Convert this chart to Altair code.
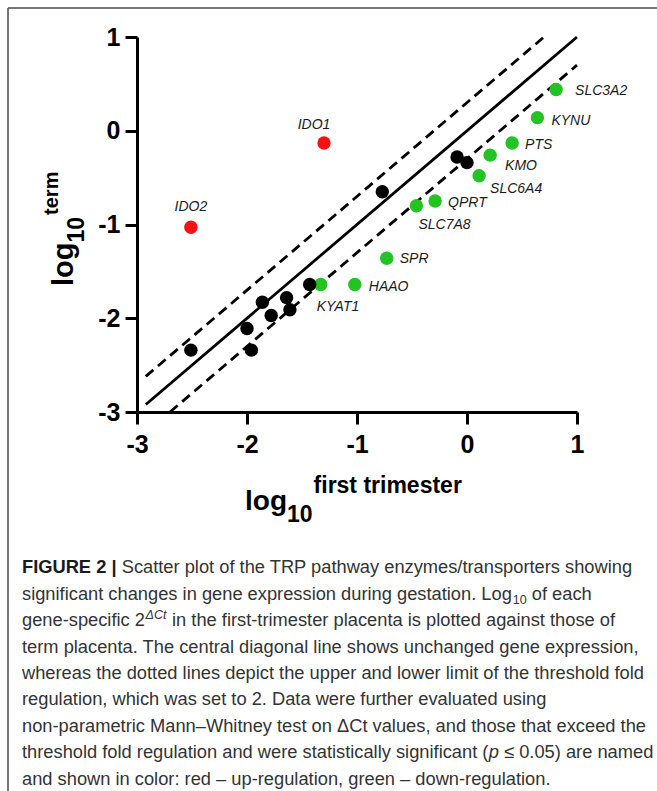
import altair as alt
import pandas as pd

# ---------------- data ----------------
up_genes = ["IDO2", "IDO1"]
up_first = [-2.51, -1.30]
up_term = [-1.03, -0.13]

down_genes = ["SLC3A2", "KYNU", "PTS", "KMO", "SLC6A4", "QPRT", "SLC7A8", "SPR", "HAAO", "KYAT1"]
down_first = [0.81, 0.64, 0.41, 0.21, 0.11, -0.29, -0.46, -0.73, -1.02, -1.33]
down_term = [0.44, 0.14, -0.13, -0.26, -0.48, -0.75, -0.80, -1.36, -1.64, -1.64]

ns_first = [-0.09, 0.00, -0.77, -1.43, -1.86, -1.64, -1.61, -1.78, -2.00, -1.96, -2.51]
ns_term = [-0.28, -0.34, -0.65, -1.64, -1.83, -1.78, -1.91, -1.97, -2.11, -2.34, -2.34]

unchanged_first = [-2.92, 1.00]
unchanged_term = [-2.92, 1.00]
upper_first = [-2.92, 0.70]
upper_term = [-2.62, 1.00]
lower_first = [-2.70, 1.00]
lower_term = [-3.00, 0.70]

tick_values = [-3, -2, -1, 0, 1]

caption_lines = [
    [("b", "FIGURE 2 |"), ("r", " Scatter plot of the TRP pathway enzymes/transporters showing")],
    [("r", "significant changes in gene expression during gestation. Log"), ("sub", "10"), ("r", " of each")],
    [("r", "gene-specific 2"), ("sup", "\u0394Ct"), ("r", " in the first-trimester placenta is plotted against those of")],
    [("r", "term placenta. The central diagonal line shows unchanged gene expression,")],
    [("r", "whereas the dotted lines depict the upper and lower limit of the threshold fold")],
    [("r", "regulation, which was set to 2. Data were further evaluated using")],
    [("r", "non-parametric Mann\u2013Whitney test on \u0394Ct values, and those that exceed the")],
    [("r", "threshold fold regulation and were statistically significant ("), ("i", "p"), ("r", " \u2264 0.05) are named")],
    [("r", "and shown in color: red \u2013 up-regulation, green \u2013 down-regulation.")],
]

# ---------------- styles ----------------
FONT = "Liberation Sans"
RED, GREEN, BLACK = "#f21414", "#22c322", "#000000"

# label placement (align, dx, dy) relative to each point
label_style = {
    "IDO2": ("center", 0, -20), "IDO1": ("center", -10, -18),
    "SLC3A2": ("left", 19, 1), "KYNU": ("left", 14, 3), "PTS": ("left", 13, 2),
    "KMO": ("left", 15, 11), "SLC6A4": ("left", 11, 13), "QPRT": ("left", 13, 2),
    "SLC7A8": ("left", 2, 19), "SPR": ("left", 13, 1), "HAAO": ("left", 14, 2),
    "KYAT1": ("left", -4, 22),
}

REG = {' ': 278, '(': 333, ')': 333, ',': 278, '-': 333, '.': 278, '/': 278, ':': 278,
       'L': 556, 'C': 722, '\u0394': 668, '\u2264': 549,
       'a': 556, 'b': 556, 'c': 500, 'd': 556, 'e': 556, 'f': 278, 'g': 556, 'h': 556,
       'i': 222, 'j': 222, 'k': 500, 'l': 222, 'm': 833, 'n': 556, 'o': 556, 'p': 556,
       'q': 556, 'r': 333, 's': 500, 't': 278, 'u': 556, 'v': 500, 'w': 722, 'x': 500,
       'y': 500, 'z': 500}
BOLD = {'F': 611, 'I': 278, 'G': 778, 'U': 722, 'R': 722, 'E': 667, ' ': 278, '|': 280,
        'l': 278, 'o': 611, 'g': 611, 'f': 333, 'i': 278, 'r': 389, 's': 556, 't': 333,
        'm': 889, 'e': 556}


def tw(s, table, size):
    return sum(table.get(c, 556) for c in s) / 1000.0 * size


W, H = 440, 375
PAD_L, PAD_T = 137, 37

x_scale = alt.Scale(domain=[-3, 1], nice=False, zero=False)
y_scale = alt.Scale(domain=[-3, 1], nice=False, zero=False)


def axis(pad):
    return alt.Axis(values=tick_values, grid=False, title="", domainColor="black", domainWidth=3,
                    tickColor="black", tickWidth=3, tickSize=12, labelFont=FONT,
                    labelFontWeight="bold", labelFontSize=25, labelColor="black",
                    labelFlush=False, labelOverlap=False, labelPadding=pad,
                    labelExpr="'' + datum.value")


lines_df = pd.DataFrame({
    "first": unchanged_first + upper_first + lower_first,
    "term": unchanged_term + upper_term + lower_term,
    "kind": ["unchanged"] * 2 + ["upper"] * 2 + ["lower"] * 2,
})

solid = alt.Chart(lines_df).transform_filter("datum.kind == 'unchanged'").mark_line(
    color="black", strokeWidth=2.8).encode(
    x=alt.X("first:Q", scale=x_scale, axis=axis(8)),
    y=alt.Y("term:Q", scale=y_scale, axis=axis(5)),
)
dashed = alt.Chart(lines_df).transform_filter("datum.kind != 'unchanged'").mark_line(
    color="black", strokeWidth=2.8, strokeDash=[10, 6]).encode(
    x=alt.X("first:Q", scale=x_scale), y=alt.Y("term:Q", scale=y_scale), detail="kind:N")

up_df = pd.DataFrame({"gene": up_genes, "first": up_first, "term": up_term})
down_df = pd.DataFrame({"gene": down_genes, "first": down_first, "term": down_term})
ns_df = pd.DataFrame({"first": ns_first, "term": ns_term})


def dots(df, color):
    return alt.Chart(df).mark_circle(size=180, color=color, opacity=1).encode(
        x=alt.X("first:Q", scale=x_scale), y=alt.Y("term:Q", scale=y_scale))


layers = [solid, dashed, dots(down_df, GREEN), dots(ns_df, BLACK), dots(up_df, RED)]

labels_df = pd.concat([up_df, down_df], ignore_index=True)
for g in labels_df["gene"]:
    al, dx, dy = label_style[g]
    layers.append(
        alt.Chart(labels_df).transform_filter(alt.datum.gene == g).mark_text(
            font=FONT, fontStyle="italic", fontSize=14, color="#1a1a1a",
            align=al, baseline="middle", dx=dx, dy=dy).encode(
            x=alt.X("first:Q", scale=x_scale), y=alt.Y("term:Q", scale=y_scale), text="gene:N"))


def free_text(txt, x, y, size, weight="normal", style="normal", color="black", angle=0,
              align="left", baseline="alphabetic"):
    kw = dict(text=txt, font=FONT, fontSize=size, fontWeight=weight, fontStyle=style,
              color=color, align=align, baseline=baseline)
    if angle:
        kw["angle"] = angle
    return alt.Chart(pd.DataFrame({"a": [0]})).mark_text(**kw).encode(
        x=alt.value(x), y=alt.value(y))


# x axis title: log_10^{first trimester}
LOG_FS, SUB_FS, SUP_FS = 28, 23, 23
xl = 108
layers.append(free_text("log", xl, 473, LOG_FS, "bold"))
xs = xl + tw("log", BOLD, LOG_FS)
layers.append(free_text("10", xs, 485, SUB_FS, "bold"))
xp = xs + tw("10", BOLD, SUB_FS) + 1
layers.append(free_text("first trimester", xp, 456, SUP_FS, "bold"))

# y axis title: log_10^{term}  (rotated)
YLOG_FS, YSUB_FS, YSUP_FS = 29, 23, 20
yb = 249
layers.append(free_text("log", -64, yb, YLOG_FS, "bold", angle=270))
ys = yb - tw("log", BOLD, YLOG_FS)
layers.append(free_text("10", -53, ys, YSUB_FS, "bold", angle=270))
yp = ys - tw("10", BOLD, YSUB_FS) - 2
layers.append(free_text("term", -79, yp, YSUP_FS, "bold", angle=270))

# frame lines (top and left)
frame_x = 8 - PAD_L
frame_y = 8 - PAD_T
layers.append(alt.Chart(pd.DataFrame({"a": [0]})).mark_rule(color="#4a4a4a", strokeWidth=1.5).encode(
    x=alt.value(frame_x), x2=alt.value(657 - PAD_L), y=alt.value(frame_y)))
layers.append(alt.Chart(pd.DataFrame({"a": [0]})).mark_rule(color="#4a4a4a", strokeWidth=1.5).encode(
    x=alt.value(frame_x), y=alt.value(frame_y), y2=alt.value(791 - PAD_T)))

# caption
CAP_FS = 18.3
SMALL_FS = 12.5
cap_x0 = 22 - PAD_L
cap_y0 = 573.3 - PAD_T
cap_dy = 26.4
for i, segs in enumerate(caption_lines):
    cx = cap_x0
    by = cap_y0 + i * cap_dy
    for kind, txt in segs:
        table = BOLD if kind == "b" else REG
        size = SMALL_FS if kind in ("sub", "sup") else CAP_FS
        # leading blanks are dropped by SVG text: advance the cursor instead
        stripped = txt.lstrip(" ")
        cx += tw(txt[:len(txt) - len(stripped)], table, size)
        if kind == "b":
            layers.append(free_text(stripped, cx, by, size, "bold", color="#1a1a1a"))
        elif kind == "r":
            layers.append(free_text(stripped, cx, by, size, color="#333333"))
        elif kind == "i":
            layers.append(free_text(stripped, cx, by, size, style="italic", color="#333333"))
        elif kind == "sub":
            cx += 0.5
            layers.append(free_text(stripped, cx, by + 4, size, color="#333333"))
        elif kind == "sup":
            cx += 0.5
            layers.append(free_text(stripped, cx, by - 7, size, style="italic", color="#333333"))
            cx += 0.5
        cx += tw(stripped, table, size)

chart = alt.layer(*layers).properties(
    width=W, height=H,
    autosize=alt.AutoSizeParams(type="none"),
    padding={"left": PAD_L, "top": PAD_T, "right": 657 - PAD_L - W, "bottom": 791 - PAD_T - H},
).configure_view(strokeWidth=0)

chart.save("out.html", embed_options={"renderer": "svg", "actions": False})
